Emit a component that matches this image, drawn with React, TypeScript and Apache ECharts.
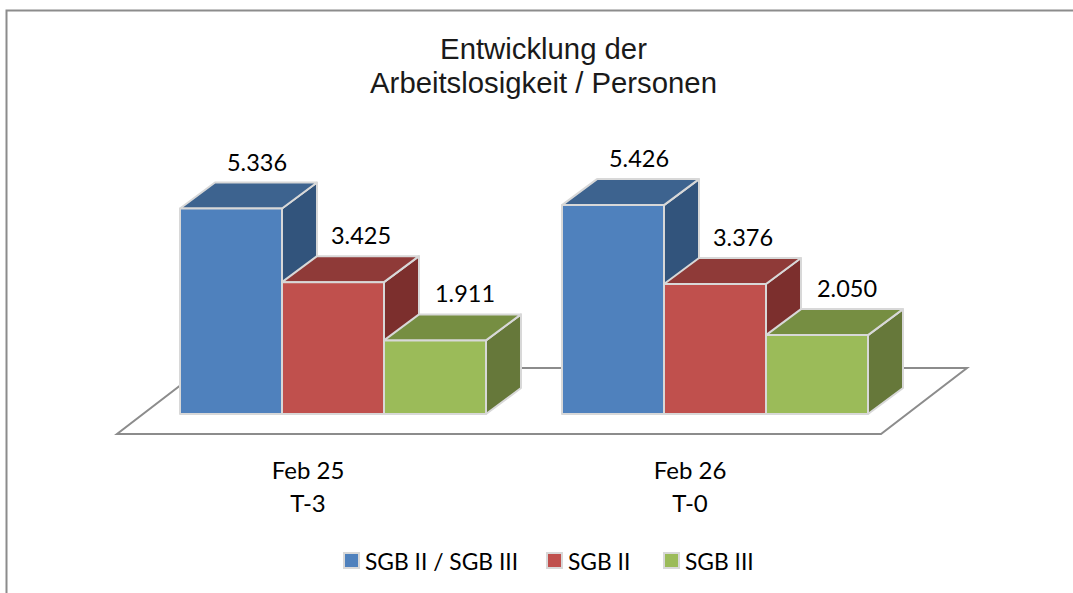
import React, { useEffect, useRef } from "react";
import * as echarts from "echarts";

const categories = ["Feb 25\nT-3", "Feb 26\nT-0"];
const seriesNames = ["SGB II / SGB III", "SGB II", "SGB III"];
const totalValues = [5336, 5426];
const sgb2Values = [3425, 3376];
const sgb3Values = [1911, 2050];
const titleText = "Entwicklung der\nArbeitslosigkeit / Personen";

const frontColors = ["#4f81bd", "#c0504d", "#9bbb59"];
const topColors = ["#3d638f", "#8f3a38", "#768e42"];
const sideColors = ["#32547c", "#7c2f2d", "#66783a"];
const edgeColor = "#d8d8d8";
const BAR_W = 102;
const DX = 35;
const DY = 26;
const GROUP_SHIFT = 25;
const LABEL = "Lato, 'Open Sans', sans-serif";

const fmt = (v: number) => String(v).replace(/(\d)(\d{3})$/, "$1.$2");

const barSeries = (index: number, values: number[]) => ({
  type: "custom",
  name: seriesNames[index],
  data: values.map((v, i) => [i, v]),
  encode: { x: 0, y: 1 },
  z: 3 + index,
  itemStyle: { color: frontColors[index], borderColor: edgeColor, borderWidth: 2 },
  renderItem: (_: any, api: any) => {
    const top = api.coord([api.value(0), api.value(1)]);
    const base = api.coord([api.value(0), 0]);
    const x0 = top[0] + GROUP_SHIFT + (index - 1.5) * BAR_W;
    const x1 = x0 + BAR_W;
    const y0 = top[1];
    const y1 = base[1];
    const shape = (points: number[][], fill: string) => ({
      type: "polygon",
      shape: { points },
      style: { fill, stroke: edgeColor, lineWidth: 2, lineJoin: "round" },
    });
    return {
      type: "group",
      children: [
        shape([[x1, y0], [x1 + DX, y0 - DY], [x1 + DX, y1 - DY], [x1, y1]], sideColors[index]),
        shape([[x0, y0], [x1, y0], [x1 + DX, y0 - DY], [x0 + DX, y0 - DY]], topColors[index]),
        shape([[x0, y0], [x1, y0], [x1, y1], [x0, y1]], frontColors[index]),
        {
          type: "text",
          x: (x0 + x1) / 2 + 26 + index * 2,
          y: y0 - DY - 21,
          style: {
            text: fmt(api.value(1)),
            fill: "#000000",
            font: `23.5px ${LABEL}`,
            textAlign: "center",
            textVerticalAlign: "middle",
          },
        },
      ],
    };
  },
});

const legendAt = (index: number, left: number) => ({
  data: [seriesNames[index]],
  left,
  top: 549,
  itemWidth: 15,
  itemHeight: 15,
  itemGap: 0,
  padding: 0,
  icon: "rect",
  selectedMode: false,
  textStyle: { fontFamily: LABEL, fontSize: 22.8, color: "#000000", padding: [0, 0, 0, 1] },
});

export default function App() {
  const ref = useRef<HTMLDivElement>(null);
  useEffect(() => {
    const chart = echarts.init(ref.current!, undefined, { renderer: "svg" });
    chart.setOption({
      animation: false,
      backgroundColor: "#ffffff",
      title: {
        text: titleText,
        left: 538.5,
        top: 26,
        textAlign: "center",
        textStyle: {
          fontFamily: "'Liberation Sans', Arial, sans-serif",
          fontSize: 29.3,
          fontWeight: "normal",
          color: "#1a1a1a",
          lineHeight: 34,
        },
      },
      graphic: [
        {
          type: "polyline",
          silent: true,
          shape: { points: [[6.5, 593], [6.5, 10.5], [1073, 10.5]] },
          style: { fill: "none", stroke: "#8c8c8c", lineWidth: 2 },
        },
      ],
      legend: [legendAt(0, 343), legendAt(1, 546), legendAt(2, 663)],
      grid: { left: 117, width: 764, top: 183, height: 231 },
      xAxis: {
        type: "category",
        data: categories,
        axisLine: { show: false },
        axisTick: { show: false },
        axisLabel: {
          margin: 39,
          fontFamily: LABEL,
          fontSize: 24,
          lineHeight: 33,
          color: "#000000",
        },
      },
      yAxis: { type: "value", min: 0, max: 6000, show: false },
      series: [
        {
          type: "custom",
          name: "floor",
          data: [[0, 0]],
          encode: { x: 0, y: 1 },
          z: 1,
          silent: true,
          renderItem: (params: any) => {
            const c = params.coordSys;
            const front = c.y + c.height + 20;
            return {
              type: "polygon",
              shape: {
                points: [
                  [c.x, front],
                  [c.x + c.width, front],
                  [c.x + c.width + 86, front - 66],
                  [c.x + 86, front - 66],
                ],
              },
              style: { fill: "#ffffff", stroke: "#8c8c8c", lineWidth: 2 },
            };
          },
        },
        barSeries(0, totalValues),
        barSeries(1, sgb2Values),
        barSeries(2, sgb3Values),
      ],
    });
    return () => chart.dispose();
  }, []);
  return <div ref={ref} style={{ position: "absolute", left: 0, top: 0, width: 1073, height: 593 }} />;
}
